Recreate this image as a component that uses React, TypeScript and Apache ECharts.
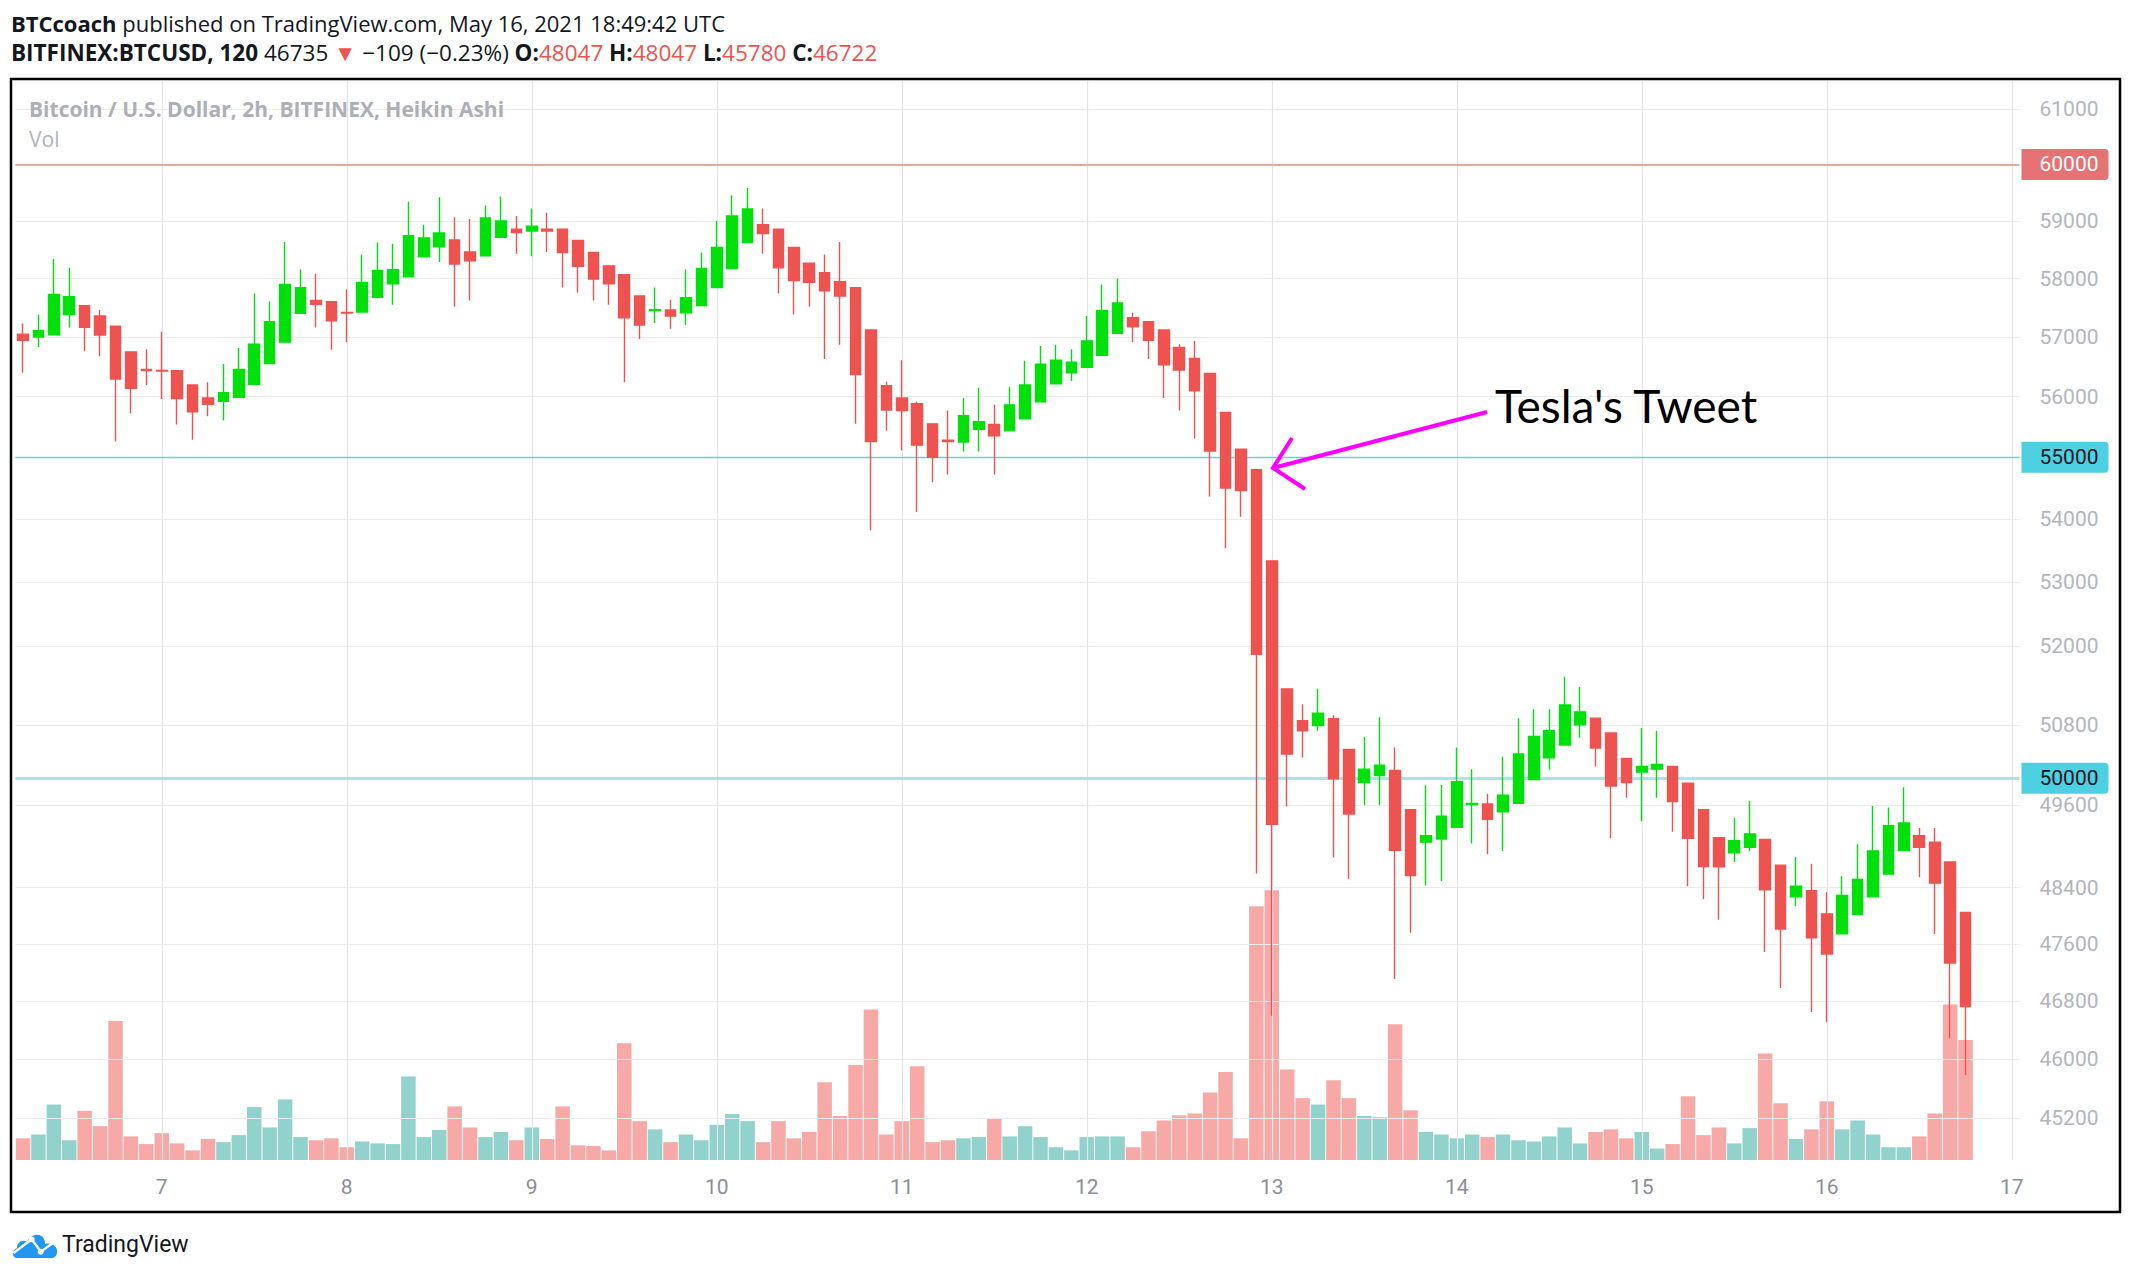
import React, { useEffect, useRef } from "react";
import * as echarts from "echarts";

// ---------- data (Heikin Ashi, 2h candles, BITFINEX:BTCUSD, from 6 May 06:00 UTC) ----------
const opens = [
  57050, 57000, 57040, 57385, 57535, 57360, 57185, 56750, 56455, 56440,
  56435, 56195, 55980, 55925, 55990, 56205, 56555, 56915, 57405, 57625,
  57605, 57420, 57425, 57680, 57910, 58030, 58375, 58550, 58670, 58460,
  58395, 58715, 58855, 58825, 58855, 58855, 58660, 58450, 58220, 58065,
  57700, 57455, 57460, 57415, 57535, 57845, 58175, 58625, 58935, 58855,
  58540, 58265, 58100, 57945, 57845, 57120, 56185, 55980, 55885, 55550,
  55280, 55250, 55460, 55540, 55435, 55635, 55915, 56215, 56400, 56490,
  56695, 57065, 57330, 57260, 57120, 56825, 56640, 56390, 55740, 55135,
  54800, 53335, 51345, 50860, 50790, 50890, 50430, 49935, 50040, 50115,
  49535, 49060, 49105, 49275, 49610, 49620, 49505, 49630, 49980, 50305,
  50495, 50800, 50900, 50675, 50295, 50090, 50135, 50175, 49925, 49535,
  49125, 48905, 48985, 49100, 48725, 48270, 48355, 48025, 47740, 48015,
  48270, 48595, 48940, 49155, 49060, 48770, 48047,
];
const highs = [
  57230, 57385, 58340, 58185, 57535, 57460, 57185, 56750, 56795, 57090,
  56435, 56195, 56240, 56545, 56815, 57745, 57605, 58635, 58155, 58085,
  57605, 57810, 58415, 58625, 58605, 59340, 58935, 59420, 59065, 59035,
  59275, 59430, 59090, 59220, 59145, 58855, 58660, 58450, 58220, 58065,
  57700, 57845, 57635, 58155, 58450, 59000, 59450, 59580, 59220, 58855,
  58540, 58275, 58415, 58635, 57845, 57120, 56250, 56610, 55915, 55550,
  55770, 55980, 56150, 55865, 56165, 56600, 56850, 56870, 56795, 57360,
  57900, 58000, 57415, 57260, 57120, 56880, 56935, 56390, 55740, 55135,
  54800, 53335, 51345, 51110, 51345, 50945, 50430, 50615, 50915, 50460,
  49535, 49895, 49900, 50460, 50135, 49770, 50320, 50900, 51035, 51035,
  51530, 51375, 50900, 50675, 50295, 50750, 50710, 50175, 49925, 49535,
  49125, 49415, 49665, 49100, 48725, 48845, 48745, 48335, 48565, 49030,
  49590, 49565, 49865, 49265, 49265, 48770, 48047,
];
const lows = [
  56400, 56835, 57040, 57165, 56760, 56675, 55260, 55720, 56195, 55960,
  55540, 55290, 55675, 55605, 55990, 56205, 56555, 56915, 57405, 57165,
  56785, 56915, 57425, 57680, 57550, 58030, 58375, 58285, 57515, 57625,
  58395, 58715, 58430, 58385, 58460, 57845, 57755, 57625, 57550, 56240,
  56965, 57240, 57140, 57205, 57535, 57845, 58175, 58625, 58430, 57745,
  57385, 57515, 56630, 56870, 55550, 53820, 55435, 55115, 54115, 54595,
  54720, 55095, 55095, 54720, 55435, 55635, 55915, 56215, 56260, 56490,
  56695, 57065, 56915, 56630, 55980, 55770, 55310, 54365, 53535, 54040,
  48605, 46595, 49580, 50310, 50710, 48835, 48530, 49600, 49600, 47105,
  47755, 48430, 48495, 49275, 49040, 48885, 48930, 49630, 49980, 50125,
  50495, 50605, 50175, 49115, 49710, 49365, 49710, 49210, 48420, 48235,
  47940, 48770, 48930, 47485, 46980, 48135, 46645, 46505, 47740, 48015,
  48270, 48595, 48940, 48550, 47740, 46280, 45780,
];
const closes = [
  56945, 57110, 57725, 57690, 57165, 57035, 56295, 56140, 56435, 56430,
  55970, 55750, 55875, 56065, 56455, 56880, 57260, 57900, 57845, 57560,
  57275, 57410, 57935, 58140, 58155, 58745, 58705, 58790, 58250, 58305,
  59055, 59000, 58800, 58910, 58825, 58450, 58210, 57990, 57910, 57330,
  57205, 57465, 57360, 57670, 58175, 58540, 59090, 59210, 58780, 58185,
  57965, 57935, 57790, 57700, 56370, 55260, 55780, 55770, 55200, 55000,
  55260, 55685, 55585, 55355, 55865, 56195, 56545, 56610, 56575, 56935,
  57450, 57580, 57175, 56945, 56535, 56445, 56100, 55105, 54500, 54460,
  51875, 49320, 50360, 50710, 50975, 49990, 49470, 50135, 50195, 48940,
  48575, 49155, 49440, 49950, 49625, 49395, 49750, 50360, 50625, 50710,
  51100, 50995, 50450, 49885, 49935, 50175, 50205, 49655, 49115, 48705,
  48700, 49080, 49180, 48370, 47810, 48420, 47685, 47455, 48290, 48520,
  48930, 49300, 49340, 48985, 48465, 47330, 46722,
];
const volumes = [
  340, 400, 870, 310, 770, 530, 2180, 370, 250, 420,
  260, 150, 330, 280, 390, 830, 510, 950, 360, 310,
  340, 200, 290, 260, 250, 1310, 360, 470, 840, 510,
  360, 440, 310, 510, 330, 840, 230, 220, 150, 1830,
  610, 480, 280, 400, 310, 550, 720, 610, 280, 610,
  340, 440, 1220, 690, 1490, 2360, 400, 610, 1470, 280,
  310, 340, 360, 660, 370, 530, 360, 200, 150, 360,
  370, 370, 200, 450, 620, 700, 730, 1060, 1380, 340,
  3980, 4230, 1420, 970, 870, 1250, 970, 690, 670, 2130,
  780, 440, 400, 340, 400, 360, 400, 310, 290, 370,
  510, 260, 440, 480, 340, 440, 180, 250, 1000, 390,
  510, 260, 500, 1670, 890, 330, 480, 920, 480, 620,
  400, 200, 200, 370, 730, 2440, 1880,
];
const priceTicks = [61000, 59000, 58000, 57000, 56000, 54000, 53000, 52000, 50800, 49600, 48400, 47600, 46800, 46000, 45200];
const levelValues = [60000, 55000, 50000];
const SLOT_COUNT = 130; // 6 May 06:00 .. 17 May 00:00 in 2h steps
const START_UTC = Date.UTC(2021, 4, 6, 6);

// ---------- style ----------
const GREEN = "#00e10c";
const RED = "#ef5350";
const VOL_GREEN = "rgba(38,166,154,0.5)";
const VOL_RED = "rgba(239,83,80,0.5)";
const GRID_H = "#ececf0";
const GRID_V = "#e3e5eb";
const LABEL = "#b2b5be";
const FONT = "Roboto, 'Open Sans', sans-serif";
const HEAD_FONT = "'Open Sans', Roboto, sans-serif";

const pad = (n: number) => String(n).padStart(2, "0");
const categories = Array.from({ length: SLOT_COUNT }, (_, i) => {
  const d = new Date(START_UTC + i * 7200000);
  return `${pad(d.getUTCDate())} ${pad(d.getUTCHours())}:00`;
});
const dayCats = categories.filter((c) => c.endsWith(" 00:00"));

const cloudPath =
  "M6,27 C1,27 0,19 6,17 C6,11 12,8 16,11 C19,3 30,1 33,8 C34,10 34,12 34,13 C41,11 47,16 46,21 C46,25 43,27 40,27 Z";
let registered = false;
function ensureShape() {
  if (registered) return;
  echarts.graphic.registerShape("tvcloud", echarts.graphic.extendPath(cloudPath, {}) as any);
  registered = true;
}

export default function App() {
  const ref = useRef<HTMLDivElement>(null);
  useEffect(() => {
    ensureShape();
    document.body.style.margin = "0";
    const chart = echarts.init(ref.current!, undefined, { renderer: "svg" });

    const ohlc = opens.map((o, i) => [o, closes[i], lows[i], highs[i]]);
    const volData = volumes.map((v, i) => ({
      value: v,
      itemStyle: { color: closes[i] >= opens[i] ? VOL_GREEN : VOL_RED },
    }));

    const levelStyles: Record<number, any> = {
      60000: { line: { color: "#eea3a3", width: 2 }, bg: "#e57373", fg: "#ffffff" },
      55000: { line: { color: "#62d2e0", width: 1.3 }, bg: "#4dd0e1", fg: "#131722" },
      50000: { line: { color: "#a9e4eb", width: 3 }, bg: "#4dd0e1", fg: "#131722" },
    };

    const markData: any[] = [
      ...dayCats.map((c) => ({
        xAxis: c,
        lineStyle: { color: GRID_V, width: 1.2, type: "solid" },
        label: { show: false },
      })),
      ...priceTicks.map((v) => ({
        yAxis: v,
        lineStyle: { color: GRID_H, width: 1, type: "solid" },
        label: {
          show: true,
          position: "end",
          distance: 20,
          formatter: String(v),
          color: LABEL,
          fontSize: 21,
          fontFamily: FONT,
        },
      })),
      ...levelValues.map((v) => ({
        yAxis: v,
        lineStyle: { color: levelStyles[v].line.color, width: levelStyles[v].line.width, type: "solid" },
        label: {
          show: true,
          position: "end",
          distance: 2,
          formatter: String(v),
          color: levelStyles[v].fg,
          backgroundColor: levelStyles[v].bg,
          fontSize: 21,
          fontFamily: FONT,
          padding: [5, 10, 5, 18],
          borderRadius: [0, 4, 4, 0],
        },
      })),
    ];

    const option: any = {
      animation: false,
      backgroundColor: "#ffffff",
      grid: { left: 15.3, right: 109.5, top: 81, bottom: 118, containLabel: false },
      xAxis: {
        type: "category",
        data: categories,
        boundaryGap: true,
        axisLine: { show: false },
        axisTick: { show: false },
        splitLine: { show: false },
        axisLabel: {
          interval: (_i: number, v: string) => v.endsWith(" 00:00"),
          formatter: (v: string) => String(parseInt(v.slice(0, 2), 10)),
          color: "#8c8f99",
          fontSize: 21,
          fontFamily: FONT,
          margin: 16,
        },
      },
      yAxis: [
        { type: "log", logBase: 10, min: 44639, max: 61506, show: false, splitLine: { show: false } },
        { type: "value", min: 0, max: 16920, show: false, splitLine: { show: false } },
      ],
      series: [
        {
          type: "bar",
          name: "Vol",
          yAxisIndex: 1,
          data: volData,
          barWidth: "94%",
          z: 3,
        },
        {
          type: "candlestick",
          name: "BTCUSD",
          data: ohlc,
          barWidth: "72%",
          z: 10,
          itemStyle: {
            color: GREEN,
            color0: RED,
            borderColor: GREEN,
            borderColor0: RED,
            borderWidth: 1.4,
          },
          markLine: {
            silent: true,
            symbol: ["none", "none"],
            animation: false,
            data: markData,
          },
        },
      ],
      graphic: [
        {
          type: "text",
          x: 11,
          y: 23,
          style: {
            text: "{b|BTCcoach}{n| published on TradingView.com, May 16, 2021 18:49:42 UTC}",
            verticalAlign: "middle",
            rich: {
              b: { fontFamily: HEAD_FONT, fontSize: 22, fontWeight: "bold", fill: "#131722" },
              n: { fontFamily: HEAD_FONT, fontSize: 22, fill: "#131722" },
            },
          },
        },
        {
          type: "text",
          x: 11,
          y: 52,
          style: {
            text:
              "{b|BITFINEX:BTCUSD, 120}{n| 46735 }{r|▼}{n| −109 (−0.23%) }{b|O:}{r|48047}{b| H:}{r|48047}{b| L:}{r|45780}{b| C:}{r|46722}",
            verticalAlign: "middle",
            rich: {
              b: { fontFamily: HEAD_FONT, fontSize: 22.5, fontWeight: "bold", fill: "#131722" },
              n: { fontFamily: HEAD_FONT, fontSize: 22.5, fill: "#131722" },
              r: { fontFamily: HEAD_FONT, fontSize: 22.5, fill: RED },
            },
          },
        },
        {
          type: "text",
          x: 29,
          y: 109,
          z: 20,
          style: {
            text: "Bitcoin / U.S. Dollar, 2h, BITFINEX, Heikin Ashi",
            fontFamily: HEAD_FONT,
            fontSize: 21,
            fontWeight: "bold",
            fill: "#acafb8",
            verticalAlign: "middle",
          },
        },
        {
          type: "text",
          x: 29,
          y: 139,
          z: 20,
          style: { text: "Vol", fontFamily: HEAD_FONT, fontSize: 21, fill: LABEL, verticalAlign: "middle" },
        },
        {
          type: "rect",
          z: 50,
          shape: { x: 11, y: 79, width: 2109, height: 1133 },
          style: { fill: "none", stroke: "#000000", lineWidth: 2.5 },
        },
        {
          type: "polyline",
          z: 60,
          shape: { points: [[1487, 412], [1273, 468]] },
          style: { stroke: "#ff00ff", lineWidth: 4, fill: "none" },
        },
        {
          type: "polyline",
          z: 60,
          shape: { points: [[1292, 438], [1273, 468], [1305, 489]] },
          style: { stroke: "#ff00ff", lineWidth: 4, fill: "none" },
        },
        {
          type: "text",
          x: 1495,
          y: 405,
          z: 60,
          style: {
            text: "Tesla's Tweet",
            fontFamily: "Lato, 'Open Sans', sans-serif",
            fontSize: 46,
            fill: "#000000",
            verticalAlign: "middle",
          },
        },
        {
          type: "tvcloud",
          x: 11,
          y: 1231,
          style: { fill: "#2196f3" },
        },
        {
          type: "polyline",
          shape: { points: [[13.5, 1253], [31.7, 1239.3], [40.7, 1251.7], [53.3, 1242.7]] },
          style: { stroke: "#ffffff", lineWidth: 2.4, fill: "none" },
        },
        { type: "circle", shape: { cx: 31.7, cy: 1239.3, r: 3 }, style: { fill: "#ffffff" } },
        { type: "circle", shape: { cx: 40.7, cy: 1251.7, r: 3 }, style: { fill: "#ffffff" } },
        {
          type: "text",
          x: 62,
          y: 1244,
          style: {
            text: "TradingView",
            fontFamily: FONT,
            fontSize: 23,
            fill: "#131722",
            verticalAlign: "middle",
          },
        },
      ],
    };
    chart.setOption(option);
    return () => chart.dispose();
  }, []);
  return (
    <div
      ref={ref}
      style={{ position: "fixed", left: 0, top: 0, width: "2129px", height: "1278px", background: "#ffffff" }}
    />
  );
}
